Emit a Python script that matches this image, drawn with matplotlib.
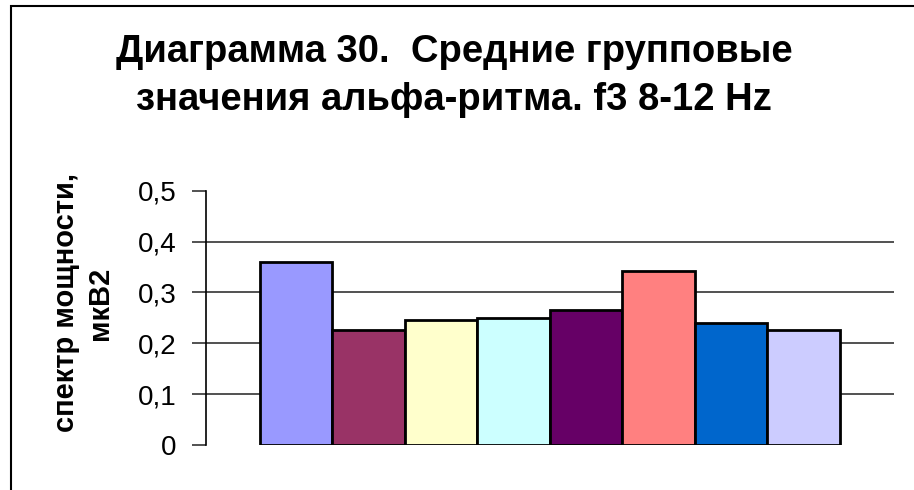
import matplotlib
matplotlib.use("Agg")
import matplotlib.pyplot as plt
from matplotlib.patches import Rectangle
from matplotlib.ticker import FixedLocator, FuncFormatter

plt.rcParams['font.family'] = ['Liberation Sans', 'DejaVu Sans']

title_lines = ["Диаграмма 30.  Средние групповые",
               "значения альфа-ритма. f3 8-12 Hz"]
ylabel = "спектр мощности,\nмкВ2"
groups = ["1", "2", "3", "4", "5", "6", "7", "8"]
values = [0.359, 0.227, 0.245, 0.250, 0.266, 0.342, 0.239, 0.227]
colors = ["#9999FF", "#993366", "#FFFFCC", "#CCFFFF",
          "#660066", "#FF8080", "#0066CC", "#CCCCFF"]
yticks = [0, 0.1, 0.2, 0.3, 0.4, 0.5]

W, H = 914, 490
fig = plt.figure(figsize=(W / 100, H / 100), dpi=100)
ax = fig.add_axes([205.7 / W, 1 - 445 / H, (894 - 205.7) / W, (445 - 190.7) / H])

# horizontal gridlines (none at the top of the scale)
for v in yticks[1:-1]:
    ax.axhline(v, color="#333333", lw=1.2, zorder=0)

x = list(range(len(values)))
ax.bar(x, values, width=1.0, color=colors, edgecolor="black", linewidth=2.0, zorder=2)

ax.set_xlim(-1.25, len(values) + 0.25)
ax.set_ylim(0, 0.5)
ax.yaxis.set_major_locator(FixedLocator(yticks))
ax.yaxis.set_major_formatter(FuncFormatter(lambda v, p: "0" if v == 0 else f"{v:.1f}".replace(".", ",")))
ax.tick_params(axis="y", direction="out", length=10, width=1.2, labelsize=20, pad=11, color="#333333")
ax.tick_params(axis="x", bottom=False, labelbottom=False)
for s in ["top", "right", "bottom"]:
    ax.spines[s].set_visible(False)
ax.spines["left"].set_linewidth(1.2)
ax.spines["left"].set_color("black")

fig.text(83 / W, 1 - 303 / H, ylabel, rotation=90, ha="center", va="center",
         fontsize=21, fontweight="bold", multialignment="center", linespacing=1.25)

for line, yc in zip(title_lines, [52, 100]):
    fig.text(454 / W, 1 - yc / H, line, ha="center", va="center", fontsize=27.5,
             fontweight="bold")

# outer chart frame
fig.patches.append(Rectangle((11 / W, -0.2), 1.5, 1 - 6 / H + 0.2, transform=fig.transFigure,
                             fill=False, edgecolor="black", linewidth=1.5))

fig.savefig("out.png", dpi=100)
